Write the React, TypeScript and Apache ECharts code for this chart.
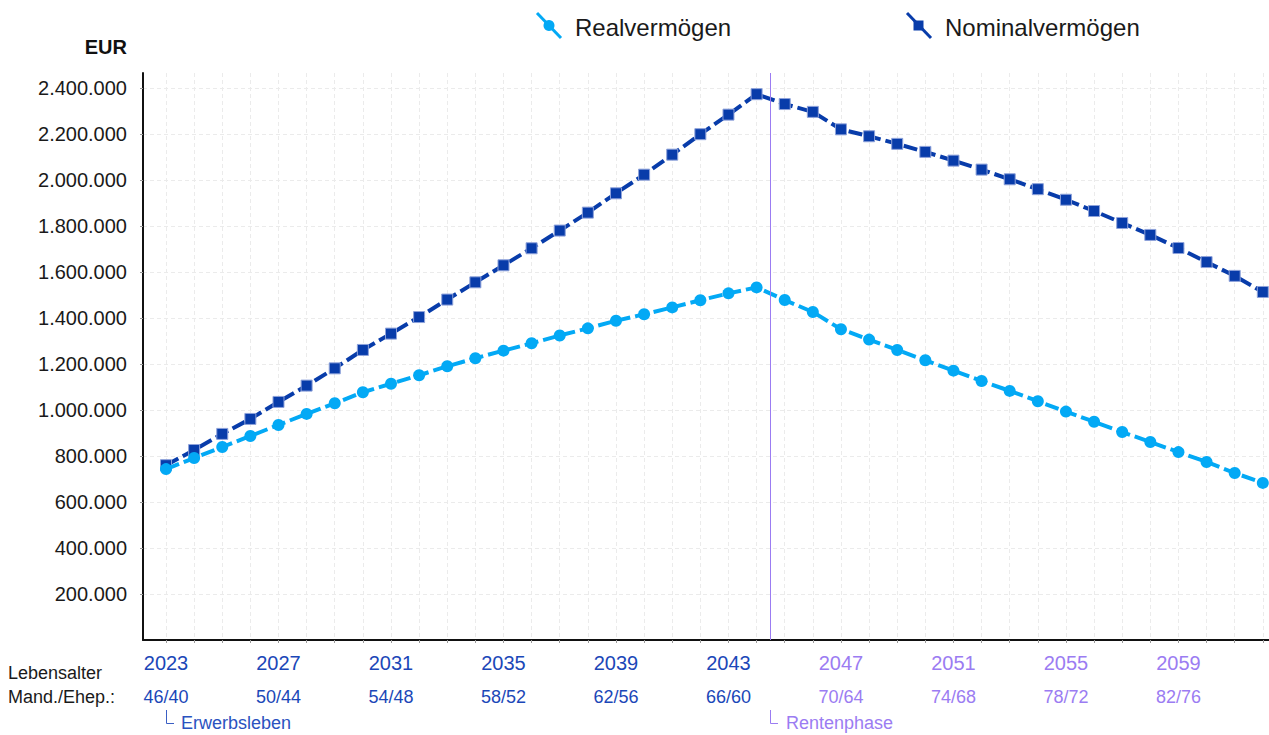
import React, { useEffect, useRef } from "react";
import * as echarts from "echarts";

const years = [2023, 2024, 2025, 2026, 2027, 2028, 2029, 2030, 2031, 2032, 2033, 2034, 2035, 2036, 2037, 2038, 2039, 2040, 2041, 2042, 2043, 2044, 2045, 2046, 2047, 2048, 2049, 2050, 2051, 2052, 2053, 2054, 2055, 2056, 2057, 2058, 2059, 2060, 2061, 2062];
const nominalValues = [760000, 826000, 896000, 961000, 1035000, 1106000, 1181000, 1261000, 1332000, 1404000, 1480000, 1555000, 1629000, 1703000, 1780000, 1858000, 1942000, 2023000, 2110000, 2199000, 2284000, 2373000, 2330000, 2296000, 2220000, 2190000, 2157000, 2122000, 2084000, 2045000, 2003000, 1960000, 1914000, 1865000, 1813000, 1761000, 1704000, 1643000, 1583000, 1513000];
const realValues = [743000, 791000, 839000, 887000, 935000, 983000, 1029000, 1077000, 1114000, 1151000, 1190000, 1225000, 1258000, 1290000, 1324000, 1355000, 1388000, 1416000, 1446000, 1477000, 1507000, 1533000, 1478000, 1426000, 1351000, 1306000, 1261000, 1216000, 1171000, 1126000, 1083000, 1038000, 993000, 949000, 904000, 861000, 817000, 774000, 726000, 683000];
const labelYears = [2023, 2027, 2031, 2035, 2039, 2043, 2047, 2051, 2055, 2059];
const ageLabels = ["46/40", "50/44", "54/48", "58/52", "62/56", "66/60", "70/64", "74/68", "78/72", "82/76"];
const yTicks = [200000, 400000, 600000, 800000, 1000000, 1200000, 1400000, 1600000, 1800000, 2000000, 2200000, 2400000];
const retirementYear = 2044.5;

const FONT = "'Liberation Sans', Arial, sans-serif";
const BLUE_TXT = "#1b47b8";
const PURPLE = "#9b7cf2";
const REAL = "#03a9f5";
const NOMINAL = "#083caa";

function fmt(v: number) {
  return String(Math.round(v)).replace(/\B(?=(\d{3})+(?!\d))/g, ".");
}

export default function App() {
  const ref = useRef<HTMLDivElement>(null);
  useEffect(() => {
    document.body.style.margin = "0";
    const chart = echarts.init(ref.current!, null, { renderer: "svg" });
    const option: any = {
      animation: false,
      backgroundColor: "#ffffff",
      grid: { left: 143, right: 0, top: 73, bottom: 95 },
      xAxis: {
        type: "value",
        min: 2022.182,
        max: 2062.22,
        axisLine: { show: true, lineStyle: { color: "#111", width: 2 } },
        axisTick: { show: true, length: 3, lineStyle: { color: "#999" }, customValues: years },
        splitLine: { show: true, lineStyle: { color: "#ebebeb", type: [4, 3], width: 1 } },
        axisLabel: {
          customValues: labelYears,
          margin: 6,
          formatter: (v: number) => {
            const i = labelYears.indexOf(Math.round(v));
            const age = i >= 0 ? ageLabels[i] : "";
            return v < retirementYear ? `{b|${Math.round(v)}}\n{ba|${age}}` : `{p|${Math.round(v)}}\n{pa|${age}}`;
          },
          rich: {
            b: { color: BLUE_TXT, fontSize: 20, fontFamily: FONT, lineHeight: 34 },
            ba: { color: BLUE_TXT, fontSize: 18, fontFamily: FONT, lineHeight: 34 },
            p: { color: PURPLE, fontSize: 20, fontFamily: FONT, lineHeight: 34 },
            pa: { color: PURPLE, fontSize: 18, fontFamily: FONT, lineHeight: 34 },
          },
        },
      },
      yAxis: {
        type: "value",
        min: 0,
        max: 2465000,
        name: "EUR",
        nameLocation: "end",
        nameGap: 16,
        nameTextStyle: { fontFamily: FONT, fontSize: 20, fontWeight: "bold", color: "#111", align: "right", padding: [0, 16, 0, 0] },
        axisLine: { show: true, lineStyle: { color: "#111", width: 2 } },
        axisTick: { show: true, length: 3, lineStyle: { color: "#999" }, customValues: yTicks },
        splitLine: { show: true, lineStyle: { color: "#ebebeb", type: [4, 3], width: 1 } },
        axisLabel: {
          customValues: yTicks,
          margin: 16,
          fontFamily: FONT,
          fontSize: 20,
          color: "#1a1a1a",
          formatter: (v: number) => fmt(v),
        },
      },
      series: [
        {
          name: "Nominalvermögen",
          type: "line",
          data: years.map((y, i) => [y, nominalValues[i]]),
          symbol: "rect",
          symbolSize: 11,
          clip: false,
          z: 3,
          lineStyle: { color: NOMINAL, width: 4, type: [14, 5] },
          itemStyle: { color: NOMINAL, borderColor: "#8ea2da", borderWidth: 1 },
          markLine: {
            silent: true,
            symbol: ["none", "none"],
            label: { show: false },
            lineStyle: { color: PURPLE, width: 1, type: "solid" },
            data: [{ xAxis: retirementYear }],
          },
        },
        {
          name: "Realvermögen",
          type: "line",
          data: years.map((y, i) => [y, realValues[i]]),
          symbol: "circle",
          symbolSize: 12,
          clip: false,
          z: 4,
          lineStyle: { color: REAL, width: 4, type: [14, 5] },
          itemStyle: { color: REAL, borderWidth: 0 },
        },
      ],
      graphic: [
        { type: "line", shape: { x1: 537, y1: 13, x2: 561, y2: 38 }, style: { stroke: REAL, lineWidth: 3 } },
        { type: "circle", shape: { cx: 549, cy: 25.5, r: 5.5 }, style: { fill: REAL } },
        { type: "text", x: 575, y: 27, style: { text: "Realvermögen", fontFamily: FONT, fontSize: 24, fill: "#1a1a1a", verticalAlign: "middle" } },
        { type: "line", shape: { x1: 907, y1: 13, x2: 931, y2: 38 }, style: { stroke: NOMINAL, lineWidth: 3 } },
        { type: "rect", shape: { x: 913.5, y: 20.5, width: 10, height: 10 }, style: { fill: NOMINAL } },
        { type: "text", x: 945, y: 27, style: { text: "Nominalvermögen", fontFamily: FONT, fontSize: 24, fill: "#1a1a1a", verticalAlign: "middle" } },
        { type: "text", x: 8, y: 673, style: { text: "Lebensalter", fontFamily: FONT, fontSize: 18, fill: "#1a1a1a", verticalAlign: "middle" } },
        { type: "text", x: 8, y: 697, style: { text: "Mand./Ehep.:", fontFamily: FONT, fontSize: 18, fill: "#1a1a1a", verticalAlign: "middle" } },
        { type: "polyline", shape: { points: [[166.5, 710], [166.5, 723.5], [174, 723.5]] }, style: { stroke: "#3a5fc4", lineWidth: 1, fill: "none" } },
        { type: "text", x: 181, y: 723, style: { text: "Erwerbsleben", fontFamily: FONT, fontSize: 18, fill: "#2a52c0", verticalAlign: "middle" } },
        { type: "polyline", shape: { points: [[770.5, 710], [770.5, 723.5], [778, 723.5]] }, style: { stroke: PURPLE, lineWidth: 1, fill: "none" } },
        { type: "text", x: 786, y: 723, style: { text: "Rentenphase", fontFamily: FONT, fontSize: 18, fill: PURPLE, verticalAlign: "middle" } },
      ],
    };
    chart.setOption(option);
    return () => chart.dispose();
  }, []);
  return <div ref={ref} style={{ position: "absolute", left: 0, top: 0, width: 1269, height: 735 }} />;
}
